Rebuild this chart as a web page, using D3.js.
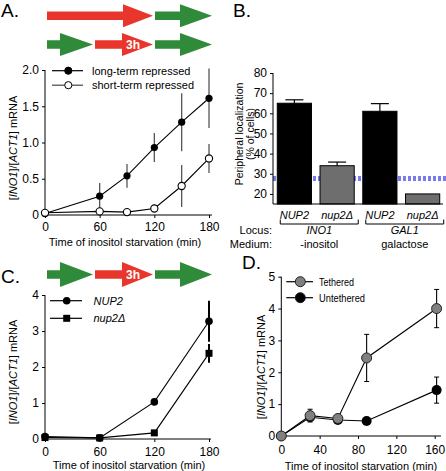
<!DOCTYPE html>
<html><head><meta charset="utf-8">
<script src="https://cdn.jsdelivr.net/npm/d3@7"></script>
<style>body{margin:0;background:#fff} svg{display:block;font-family:"Liberation Sans",Arial,Helvetica,sans-serif}</style>
</head><body><svg id="c" width="446" height="471"></svg>
<script>
// ---------- DATA ----------
// Panel A
const aTimes = [0, 60, 90, 120, 150, 180];
const aLong = [0.02, 0.26, 0.54, 0.93, 1.28, 1.61];
const aLongErr = [0, 0.18, 0.165, 0.2, 0.4, 0.41];
const aShort = [0.03, 0.05, 0.04, 0.09, 0.40, 0.78];
const aShortErr = [0, 0, 0, 0, 0.29, 0.2];
const aXTicks = [0, 60, 120, 180];
const aYTicks = [0, 0.5, 1.0, 1.5, 2.0];
const aYTickLabels = ["0", "0.5", "1.0", "1.5", "2.0"];
const aLegend = ["long-term repressed", "short-term repressed"];
// Panel B
const bCats = ["NUP2", "nup2\u0394", "NUP2", "nup2\u0394"];
const bValues = [65, 34, 61, 20];
const bErr = [1.7, 1.8, 3.8, 0];
const bBaseline = 27.7;
const bYTicks = [20, 30, 40, 50, 60, 70, 80];
const bLocus = ["INO1", "GAL1"];
const bMedium = ["-inositol", "galactose"];
// Panel C
const cTimes = [0, 60, 120, 180];
const cNup2 = [0.07, 0.03, 1.03, 3.27];
const cNup2Err = [0, 0, 0, 0.57];
const cDelta = [0.04, 0.03, 0.17, 2.38];
const cDeltaErr = [0, 0, 0, 0.26];
const cXTicks = [0, 60, 120, 180];
const cYTicks = [0, 1, 2, 3, 4];
const cLegend = ["NUP2", "nup2\u0394"];
// Panel D
const dTimes = [0, 30, 59, 89, 162];
const dTethered = [0, 0.64, 0.55, 2.45, 4.0];
const dTetheredErr = [0, 0.2, 0.05, 0.74, 0.6];
const dUntethered = [0, 0.59, 0.5, 0.47, 1.44];
const dUntetheredErr = [0, 0, 0, 0, 0.41];
const dXTicks = [0, 40, 80, 120, 160];
const dYTicks = [0, 1, 2, 3, 4, 5];
const dLegend = ["Tethered", "Untethered"];

const RED = "#e8362d", GREEN = "#2f8a3a";
const svg = d3.select("#c");
const TF = 12;

function arrow(x0, x1, hx, yc, sh, hh, color) {
  svg.append("path")
    .attr("d", `M${x0},${yc-sh}L${hx},${yc-sh}L${hx},${yc-hh}L${x1},${yc}L${hx},${yc+hh}L${hx},${yc+sh}L${x0},${yc+sh}Z`)
    .attr("fill", color);
}
function mrnaLabel(x, y) {
  const t = svg.append("text").attr("transform", `translate(${x},${y}) rotate(-90)`)
    .attr("text-anchor", "middle").attr("font-size", 11);
  t.append("tspan").text("[");
  t.append("tspan").attr("font-style", "italic").text("INO1");
  t.append("tspan").text("]/[");
  t.append("tspan").attr("font-style", "italic").text("ACT1");
  t.append("tspan").text("] mRNA");
}
function clean(g) {
  g.attr("font-size", null).attr("font-family", null);
  g.select(".domain").remove();
  g.selectAll("text").attr("font-size", TF);
}
function axes(x, y, xTicks, yTicks, yLabels, xEnd, tickY) {
  const gx = svg.append("g").attr("transform", `translate(0,${y.range()[0]})`)
    .call(d3.axisBottom(x).tickValues(xTicks).tickSize(3).tickSizeOuter(0).tickFormat(d3.format("d")));
  clean(gx);
  gx.selectAll("text").attr("dy", null).attr("y", tickY);
  svg.append("line").attr("x1", x.range()[0]).attr("x2", xEnd).attr("y1", y.range()[0]).attr("y2", y.range()[0]).attr("stroke", "#000");
  const gy = svg.append("g").attr("transform", `translate(${x.range()[0]},0)`)
    .call(d3.axisLeft(y).tickValues(yTicks).tickSize(3).tickSizeOuter(0).tickFormat((d, i) => yLabels ? yLabels[i] : d));
  clean(gy);
  svg.append("line").attr("x1", x.range()[0]).attr("x2", x.range()[0]).attr("y1", y.range()[0]).attr("y2", y.range()[1]).attr("stroke", "#000");
}
function errBars(x, y, xs, ys, es, color, w, cap) {
  xs.forEach((t, i) => {
    if (!es[i]) return;
    svg.append("line").attr("x1", x(t)).attr("x2", x(t)).attr("y1", y(ys[i] - es[i])).attr("y2", y(ys[i] + es[i]))
      .attr("stroke", color).attr("stroke-width", w);
    if (cap) [ys[i] - es[i], ys[i] + es[i]].forEach(v =>
      svg.append("line").attr("x1", x(t) - cap).attr("x2", x(t) + cap).attr("y1", y(v)).attr("y2", y(v)).attr("stroke", color).attr("stroke-width", 1));
  });
}
function series(x, y, xs, ys, color) {
  svg.append("path").datum(xs.map((t, i) => [t, ys[i]]))
    .attr("d", d3.line().x(d => x(d[0])).y(d => y(d[1]))).attr("fill", "none").attr("stroke", color).attr("stroke-width", 1.1);
}
function panelLabel(t, x, y) {
  svg.append("text").attr("x", x).attr("y", y).attr("font-size", 19).text(t);
}

// ---------- PANEL A ----------
panelLabel("A.", 1, 17);
arrow(47, 153, 123, 15.7, 4.2, 11.5, RED);
arrow(155, 212, 180, 15.7, 4.2, 11.5, GREEN);
arrow(47, 93, 60, 44.5, 4.2, 11.5, GREEN);
arrow(95, 153, 122, 44.5, 4.2, 11.5, RED);
arrow(155, 212, 180, 44.5, 4.2, 11.5, GREEN);
svg.append("text").attr("x", 133).attr("y", 48.5).attr("text-anchor", "middle").attr("fill", "#fff")
  .attr("font-weight", "bold").attr("font-size", 12).text("3h");

const ax = d3.scaleLinear().domain([0, 180]).range([45, 209]);
const ay = d3.scaleLinear().domain([0, 2]).range([215, 70]);
axes(ax, ay, aXTicks, aYTicks, aYTickLabels, 212, 16);
errBars(ax, ay, aTimes, aLong, aLongErr, "#555", 1.3);
errBars(ax, ay, aTimes, aShort, aShortErr, "#555", 1.3);
series(ax, ay, aTimes, aLong, "#000");
series(ax, ay, aTimes, aShort, "#000");
svg.selectAll(".aL").data(aTimes).enter().append("circle").attr("cx", d => ax(d)).attr("cy", (d, i) => ay(aLong[i]))
  .attr("r", 3.6).attr("fill", "#000");
svg.selectAll(".aS").data(aTimes).enter().append("circle").attr("cx", d => ax(d)).attr("cy", (d, i) => ay(aShort[i]))
  .attr("r", 3.6).attr("fill", "#fff").attr("stroke", "#000").attr("stroke-width", 1.1);
aLegend.forEach((t, i) => {
  const yy = 70.7 + i * 14.5;
  svg.append("line").attr("x1", 52).attr("x2", 83).attr("y1", yy).attr("y2", yy).attr("stroke", i ? "#444" : "#000").attr("stroke-width", 1.2);
  svg.append("circle").attr("cx", 68.3).attr("cy", yy).attr("r", 3.6).attr("fill", i ? "#fff" : "#000").attr("stroke", "#000");
  svg.append("text").attr("x", 92).attr("y", yy + 4).attr("font-size", 11).text(t);
});
mrnaLabel(17, 148);
svg.append("text").attr("x", 125).attr("y", 246).attr("text-anchor", "middle").attr("font-size", 11)
  .text("Time of inositol starvation (min)");

// ---------- PANEL B ----------
panelLabel("B.", 233, 17);
const bx = d3.scaleBand().domain(d3.range(bCats.length)).range([273, 444]).paddingInner(0.2).paddingOuter(0.1);
const by = d3.scaleLinear().domain([15, 80]).range([204, 73]);
svg.append("line").attr("x1", 273).attr("x2", 446).attr("y1", by(bBaseline)).attr("y2", by(bBaseline))
  .attr("stroke", "#7b7bf0").attr("stroke-width", 5).attr("stroke-dasharray", "3,2");
bValues.forEach((v, i) => {
  const x0 = bx(i), bw = bx.bandwidth();
  svg.append("rect").attr("x", x0).attr("y", by(v)).attr("width", bw).attr("height", by(15) - by(v))
    .attr("fill", i % 2 ? "#6e6e6e" : "#000").attr("stroke", "#000").attr("stroke-width", 1);
  if (bErr[i]) {
    const cx = x0 + bw / 2;
    svg.append("line").attr("x1", cx).attr("x2", cx).attr("y1", by(v)).attr("y2", by(v + bErr[i])).attr("stroke", "#000").attr("stroke-width", 1.2);
    svg.append("line").attr("x1", cx - 9).attr("x2", cx + 9).attr("y1", by(v + bErr[i])).attr("y2", by(v + bErr[i])).attr("stroke", "#000").attr("stroke-width", 1.2);
  }
  svg.append("text").attr("x", x0 + bw / 2).attr("y", 218.5).attr("text-anchor", "middle").attr("font-size", 11)
    .attr("font-style", "italic").text(bCats[i]);
});
const gby = svg.append("g").attr("transform", "translate(273,0)")
  .call(d3.axisLeft(by).tickValues(bYTicks).tickSize(3).tickSizeOuter(0));
clean(gby);
svg.append("line").attr("x1", 273).attr("x2", 273).attr("y1", 204).attr("y2", 73).attr("stroke", "#000");
svg.append("line").attr("x1", 273).attr("x2", 443).attr("y1", 204).attr("y2", 204).attr("stroke", "#000");
svg.append("text").attr("transform", "translate(243,134) rotate(-90)").attr("text-anchor", "middle").attr("font-size", 10.5).text("Peripheral localization");
svg.append("text").attr("transform", "translate(254,134) rotate(-90)").attr("text-anchor", "middle").attr("font-size", 10.5).text("(% of cells)");
bLocus.forEach((t, k) => {
  const xa = bx(2 * k) + 3, xb = bx(2 * k + 1) + bx.bandwidth() + 4;
  svg.append("path").attr("d", `M${xa},219.5V224H${xb}V219.5`).attr("fill", "none").attr("stroke", "#000").attr("stroke-width", 1);
  const cx = (xa + xb) / 2;
  svg.append("text").attr("x", cx).attr("y", 234).attr("text-anchor", "middle").attr("font-size", 11).attr("font-style", "italic").text(t);
  svg.append("text").attr("x", cx).attr("y", 248).attr("text-anchor", "middle").attr("font-size", 11).text(bMedium[k]);
});
svg.append("text").attr("x", 272).attr("y", 234).attr("text-anchor", "end").attr("font-size", 11).text("Locus:");
svg.append("text").attr("x", 272).attr("y", 248).attr("text-anchor", "end").attr("font-size", 11).text("Medium:");

// ---------- PANEL C ----------
panelLabel("C.", 1, 283);
arrow(47, 93, 60, 274.5, 4.2, 12.5, GREEN);
arrow(95, 153, 122, 274.5, 4.2, 12.5, RED);
arrow(155, 212, 180, 274.5, 4.2, 12.5, GREEN);
svg.append("text").attr("x", 133).attr("y", 278.5).attr("text-anchor", "middle").attr("fill", "#fff")
  .attr("font-weight", "bold").attr("font-size", 12).text("3h");
const cx = d3.scaleLinear().domain([0, 180]).range([45, 209]);
const cy = d3.scaleLinear().domain([0, 4]).range([439, 295]);
axes(cx, cy, cXTicks, cYTicks, null, 211, 16.5);
errBars(cx, cy, cTimes, cNup2, cNup2Err, "#000", 2);
errBars(cx, cy, cTimes, cDelta, cDeltaErr, "#000", 2);
series(cx, cy, cTimes, cNup2, "#000");
series(cx, cy, cTimes, cDelta, "#000");
svg.selectAll(".cN").data(cTimes).enter().append("circle").attr("cx", d => cx(d)).attr("cy", (d, i) => cy(cNup2[i])).attr("r", 3.8).attr("fill", "#000");
svg.selectAll(".cD").data(cTimes).enter().append("rect").attr("x", d => cx(d) - 3.5).attr("y", (d, i) => cy(cDelta[i]) - 3.5)
  .attr("width", 7).attr("height", 7).attr("fill", "#000");
cLegend.forEach((t, i) => {
  const yy = 300.7 + i * 17.6;
  svg.append("line").attr("x1", 50).attr("x2", 82).attr("y1", yy).attr("y2", yy).attr("stroke", "#000").attr("stroke-width", 1.2);
  if (i === 0) svg.append("circle").attr("cx", 66.7).attr("cy", yy).attr("r", 3.8).attr("fill", "#000");
  else svg.append("rect").attr("x", 63.2).attr("y", yy - 3.5).attr("width", 7).attr("height", 7).attr("fill", "#000");
  svg.append("text").attr("x", 93.5).attr("y", yy + 4).attr("font-size", 11).attr("font-style", "italic").text(t);
});
mrnaLabel(17, 372);
svg.append("text").attr("x", 129).attr("y", 469).attr("text-anchor", "middle").attr("font-size", 11)
  .text("Time of inositol starvation (min)");

// ---------- PANEL D ----------
panelLabel("D.", 242, 269);
const dx = d3.scaleLinear().domain([0, 160]).range([281.3, 434.7]);
const dy = d3.scaleLinear().domain([0, 5]).range([436, 276.7]);
axes(dx, dy, dXTicks, dYTicks, null, 441, 18);
errBars(dx, dy, dTimes, dUntethered, dUntetheredErr, "#000", 1.1, 2.5);
errBars(dx, dy, dTimes, dTethered, dTetheredErr, "#000", 1.1, 2.5);
series(dx, dy, dTimes, dUntethered, "#000");
series(dx, dy, dTimes, dTethered, "#000");
svg.selectAll(".dU").data(dTimes).enter().append("circle").attr("cx", d => dx(d)).attr("cy", (d, i) => dy(dUntethered[i]))
  .attr("r", 5).attr("fill", "#000");
svg.selectAll(".dT").data(dTimes).enter().append("circle").attr("cx", d => dx(d)).attr("cy", (d, i) => dy(dTethered[i]))
  .attr("r", 5).attr("fill", "#808080").attr("stroke", "#222").attr("stroke-width", 1);
dLegend.forEach((t, i) => {
  const yy = 281.7 + i * 16;
  svg.append("line").attr("x1", 286.3).attr("x2", 313).attr("y1", yy).attr("y2", yy).attr("stroke", "#000").attr("stroke-width", 1.2);
  svg.append("circle").attr("cx", 300.3).attr("cy", yy).attr("r", 5).attr("fill", i ? "#000" : "#808080").attr("stroke", "#222");
  svg.append("text").attr("x", 319).attr("y", yy + 4).attr("font-size", 11).attr("textLength", i ? 46 : 35)
    .attr("lengthAdjust", "spacingAndGlyphs").text(t);
});
mrnaLabel(265, 367);
svg.append("text").attr("x", 361).attr("y", 469.5).attr("text-anchor", "middle").attr("font-size", 11)
  .text("Time of inositol starvation (min)");
</script></body></html>
